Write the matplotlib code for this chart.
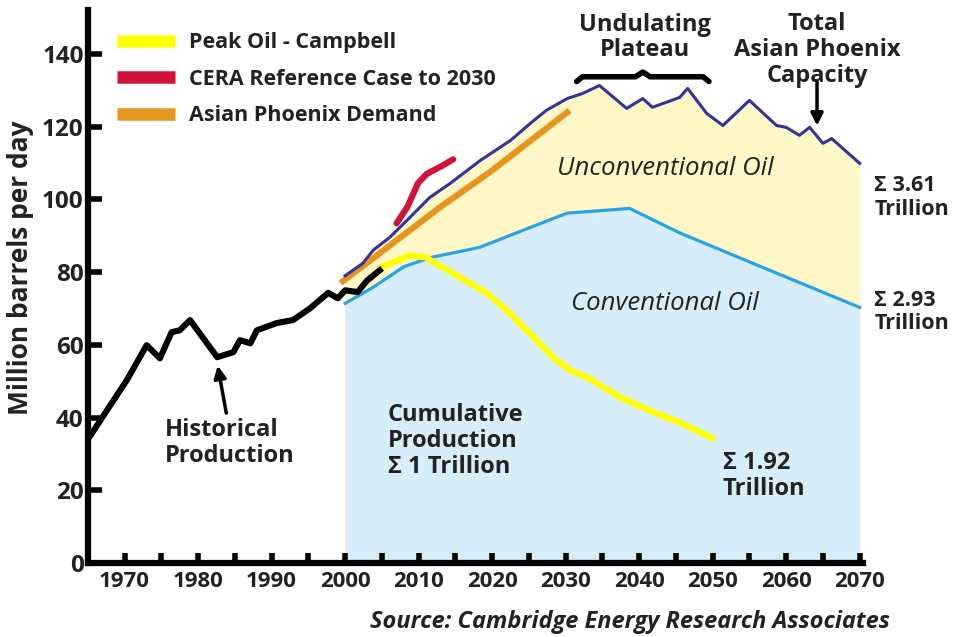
import matplotlib
matplotlib.use("Agg")
import matplotlib.pyplot as plt
from matplotlib.lines import Line2D

plt.rcParams['font.family'] = ['Open Sans', 'DejaVu Sans']

# historical production (black)
hist_years = [1965, 1970.3, 1973, 1974.8, 1976.4, 1977.5, 1978.9, 1982.6, 1984.8, 1985.7,
              1987.1, 1988, 1990.7, 1992.9, 1995.2, 1997.7, 1999, 2000, 2001.7, 2003, 2004.7]
hist_vals = [34, 50.3, 59.9, 56.3, 63.5, 64, 66.8, 56.6, 58, 61.3,
             60.4, 64, 66, 66.8, 70, 74.3, 72.8, 75, 74.5, 77.7, 80.5]

# total asian phoenix capacity (dark blue)
total_years = [2000, 2002.4, 2003.8, 2006.1, 2008.4, 2011.5, 2014.3, 2018.4, 2022.5, 2025.2,
               2027.4, 2030.2, 2032.3, 2034.6, 2038.3, 2040.5, 2041.8, 2045.5, 2046.6, 2049.2,
               2051.4, 2055, 2058.7, 2060, 2061.8, 2063.2, 2065, 2066.2, 2070]
total_vals = [79, 82.4, 86, 89.6, 94.2, 100.5, 104.4, 110.7, 116.2, 120.9,
              124.5, 127.7, 129.1, 131.3, 125, 127.7, 125.3, 128, 130.5, 123.6,
              120.3, 127.2, 120.3, 119.8, 117.6, 119.8, 115.4, 116.7, 109.9]

# conventional oil (light blue)
conv_years = [2000, 2003.8, 2008, 2011.6, 2018.3, 2024.2, 2030.2, 2038.7, 2045.5, 2056.8, 2070]
conv_vals = [71.4, 75.8, 81.5, 84, 86.8, 91.5, 96.2, 97.5, 90.8, 81.3, 70.3]

# peak oil - campbell (yellow)
peak_years = [2004.8, 2008.8, 2011.1, 2012, 2015.6, 2019.3, 2022, 2025.1, 2028.3, 2030.6,
              2032.9, 2037.4, 2041.9, 2045.5, 2050]
peak_vals = [81.3, 84.6, 84, 82.7, 78.6, 74.2, 69.5, 63.2, 56.6, 53,
             51.1, 45.6, 41.5, 38.7, 34.3]

# CERA reference case (red)
cera_years = [2007, 2008.5, 2009.9, 2011.1, 2013, 2014.7]
cera_vals = [93.4, 98, 104.4, 107, 109, 111]

# asian phoenix demand (orange)
demand_years = [1999.7, 2012.9, 2019.7, 2030.2]
demand_vals = [77.5, 97.8, 107.5, 123.9]

fig = plt.figure(figsize=(9.55, 6.37), dpi=100)
ax = fig.add_axes([0.092, 0.116, 0.812, 0.868])

# unconventional band drawn to the floor, conventional area painted over it
ax.fill_between(total_years, 0, total_vals, color='#fff8c6', lw=0, zorder=0)
ax.fill_between(conv_years, 0, conv_vals, color='#d7eefa', lw=0, zorder=1)

ax.plot(conv_years, conv_vals, color='#27a3e6', lw=2.3, zorder=3)
ax.plot(peak_years, peak_vals, color='#ffff00', lw=4.5, solid_capstyle='round', zorder=4)
ax.plot(demand_years, demand_vals, color='#e5951e', lw=4.5, zorder=5)
ax.plot(total_years, total_vals, color='#333399', lw=2.2, zorder=6)
ax.plot(cera_years, cera_vals, color='#d3123c', lw=4.5, solid_capstyle='round', zorder=7)
ax.plot(hist_years, hist_vals, color='black', lw=4.4, zorder=8)

ax.set_xlim(1965, 2070.5)
ax.set_ylim(0, 152)
for s in ['top', 'right']:
    ax.spines[s].set_visible(False)
for s in ['left', 'bottom']:
    ax.spines[s].set_linewidth(4.5)
    ax.spines[s].set_zorder(10)

ax.set_yticks(range(0, 141, 20))
ax.set_xticks(range(1970, 2071, 5))
ax.set_xticklabels([str(y) if y % 10 == 0 else '' for y in range(1970, 2071, 5)])
ax.tick_params(axis='y', direction='in', length=10, width=4, labelsize=17.5, pad=3)
ax.tick_params(axis='x', direction='in', length=7, width=4, labelsize=16, pad=6)
for lab in ax.get_xticklabels() + ax.get_yticklabels():
    lab.set_fontweight('bold')
    lab.set_color('#222222')
ax.set_ylabel('Million barrels per day', fontsize=19, fontweight='bold', color='#222222')
ax.yaxis.set_label_coords(-0.070, 0.535)

handles = [Line2D([], [], color='#ffff00', lw=9, solid_capstyle='butt'),
           Line2D([], [], color='#d3123c', lw=9, solid_capstyle='butt'),
           Line2D([], [], color='#e5951e', lw=9, solid_capstyle='butt')]
labels = ['Peak Oil - Campbell', 'CERA Reference Case to 2030', 'Asian Phoenix Demand']
leg = ax.legend(handles, labels, loc='upper left', bbox_to_anchor=(0.114, 0.963),
                bbox_transform=fig.transFigure, frameon=False, handlelength=2.65,
                handletextpad=0.65, labelspacing=0.72, borderaxespad=0,
                prop={'weight': 'bold', 'size': 15.5})
for t in leg.get_texts():
    t.set_color('#222222')

txt = dict(fontweight='bold', fontsize=17, color='#222222')
ax.text(2040.8, 144.5, 'Undulating\nPlateau', ha='center', va='center', linespacing=1.1, **txt)
ax.text(2064.2, 141, 'Total\nAsian Phoenix\nCapacity', ha='center', va='center',
        linespacing=1.1, **txt)
ax.annotate('', xy=(2064.2, 119.5), xytext=(2064.2, 133),
            arrowprops=dict(arrowstyle='-|>', color='black', lw=2.5, mutation_scale=18))

# curly brace over plateau
bx = [2031.5, 2032.3, 2039.5, 2040.5, 2041.5, 2048.7, 2049.5]
by = [132.4, 133.7, 133.7, 135.0, 133.7, 133.7, 132.4]
ax.plot(bx, by, color='black', lw=4, solid_capstyle='round', clip_on=False)

ax.text(2043.5, 108.5, 'Unconventional Oil', ha='center', va='center', style='italic',
        fontsize=18.5, color='#222222')
ax.text(2043.5, 71.4, 'Conventional Oil', ha='center', va='center', style='italic',
        fontsize=18.5, color='#222222')

# right-edge totals, slightly smaller so they stay on the canvas
side = dict(fontweight='bold', fontsize=15.5, color='#222222')
ax.text(2072.0, 100.5, 'Σ 3.61\nTrillion', ha='left', va='center', linespacing=1.15,
        clip_on=False, **side)
ax.text(2072.0, 69, 'Σ 2.93\nTrillion', ha='left', va='center', linespacing=1.15,
        clip_on=False, **side)
ax.text(2051.4, 24, 'Σ 1.92\nTrillion', ha='left', va='center', linespacing=1.1, **txt)
ax.text(2005.8, 33.5, 'Cumulative\nProduction\nΣ 1 Trillion', ha='left', va='center',
        linespacing=1.1, **txt)
ax.text(1975.5, 33, 'Historical\nProduction', ha='left', va='center', linespacing=1.1, **txt)
ax.annotate('', xy=(1982.6, 55), xytext=(1983.9, 40.5),
            arrowprops=dict(arrowstyle='-|>', color='black', lw=2.5, mutation_scale=18))

fig.text(0.932, 0.023, 'Source: Cambridge Energy Research Associates', ha='right', va='center',
         style='italic', fontweight='bold', fontsize=17, color='#222222')

fig.savefig('out.png', dpi=100)
